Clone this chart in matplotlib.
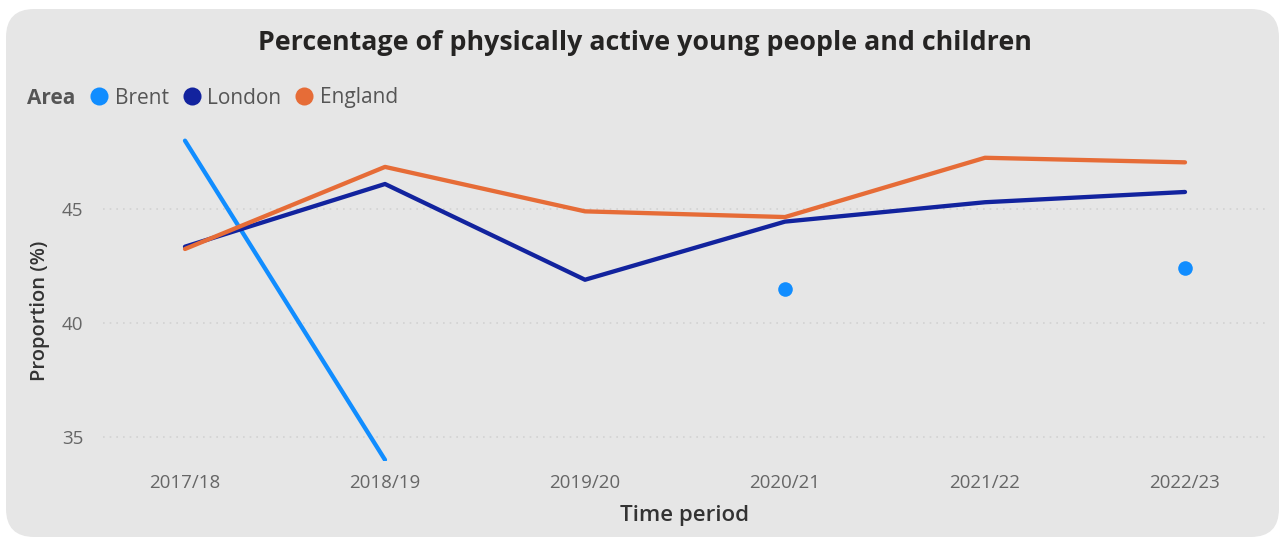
"""
Percentage of physically active young people and children — Brent / London / England
Output: out.png
"""
import numpy as np
import matplotlib.pyplot as plt
from matplotlib.patches import FancyBboxPatch
from matplotlib.lines import Line2D

# ── Data ───────────────────────────────────────────────────────────────────────
periods = ["2017/18", "2018/19", "2019/20", "2020/21", "2021/22", "2022/23"]
brent   = [48.0, 34.0, np.nan, 41.5, np.nan, 42.4]
london  = [43.35, 46.1, 41.9, 44.45, 45.3, 45.75]
england = [43.25, 46.85, 44.9, 44.65, 47.25, 47.05]

areas  = ["Brent", "London", "England"]
series = [brent, london, england]

# ── Palette ────────────────────────────────────────────────────────────────────
PANEL   = "#E6E6E6"
C_AREA  = ["#118DFF", "#12239E", "#E66C37"]
C_TICK  = "#666666"
C_LABEL = "#333333"
C_TITLE = "#252423"
C_GRID  = "#D2D2D2"

plt.rcParams["font.family"] = ["Open Sans", "DejaVu Sans"]

W, H = 1283, 543
fig = plt.figure(figsize=(W / 100, H / 100), dpi=100)
fig.patch.set_facecolor("white")

# rounded grey card behind everything
card = FancyBboxPatch((6 / W, 6 / H), 1 - 10 / W, 1 - 15 / H,
                      boxstyle="round,pad=0,rounding_size=0.022",
                      transform=fig.transFigure, facecolor=PANEL,
                      edgecolor="none", zorder=-10, mutation_aspect=W / H)
fig.patches.append(card)

ax = fig.add_axes([103 / W, 1 - 461 / H, (1265 - 103) / W, (461 - 127) / H])
ax.set_facecolor("none")
ax.set_zorder(2)

x = np.arange(len(periods))
for vals, col, name in zip(series, C_AREA, areas):
    v = np.array(vals, dtype=float)
    ax.plot(x, v, color=col, lw=3.1, solid_capstyle="round", zorder=3)
    # points with no neighbour on either side only show as dots
    ok = ~np.isnan(v)
    prev_ok = np.r_[False, ok[:-1]]
    next_ok = np.r_[ok[1:], False]
    lone = ok & ~prev_ok & ~next_ok
    ax.plot(x[lone], v[lone], ls="none", marker="o", ms=10.5,
            color=col, mec="none", zorder=4)

ax.set_xlim(-0.41, 5.4)
ax.set_ylim(33.95, 48.6)
ax.set_xticks(x)
ax.set_xticklabels(periods)
ax.set_yticks([35, 40, 45])
ax.tick_params(length=0, colors=C_TICK, labelsize=13.5)
ax.tick_params(axis="x", pad=9)
ax.tick_params(axis="y", pad=14)
ax.grid(axis="y", color=C_GRID, ls=(0, (1, 3)), lw=1.2)
for s in ax.spines.values():
    s.set_visible(False)

ax.set_xlabel("Time period", fontsize=16, color=C_LABEL,
              fontweight="semibold")
ax.set_ylabel("Proportion (%)", fontsize=14.5, color=C_LABEL,
              fontweight="semibold")
ax.xaxis.set_label_coords((685 - 103) / (1265 - 103), -(515 - 461) / 334)
ax.yaxis.set_label_coords(-(103 - 40) / (1265 - 103), (461 - 311) / 334)
ax.xaxis.label.set_va("center")
ax.yaxis.label.set_va("center")

# title
fig.text(645 / W, 1 - 43 / H,
         "Percentage of physically active young people and children",
         ha="center", va="center", fontsize=19.3, fontweight="bold",
         color=C_TITLE)

# legend
fig.text(27 / W, 1 - 98 / H, "Area", ha="left", va="center",
         fontsize=15, fontweight="bold", color="#555555")
handles = [Line2D([], [], ls="none", marker="o", ms=13, color=c, mec="none")
           for c in C_AREA]
leg = fig.legend(handles, areas, loc="center left",
                 bbox_to_anchor=(93 / W, 1 - 98 / H), ncol=3, frameon=False,
                 handlelength=0.6, handletextpad=0.45, columnspacing=0.8,
                 fontsize=15, borderaxespad=0, borderpad=0)
for t in leg.get_texts():
    t.set_color("#555555")

fig.savefig("out.png", dpi=100, facecolor="white")
